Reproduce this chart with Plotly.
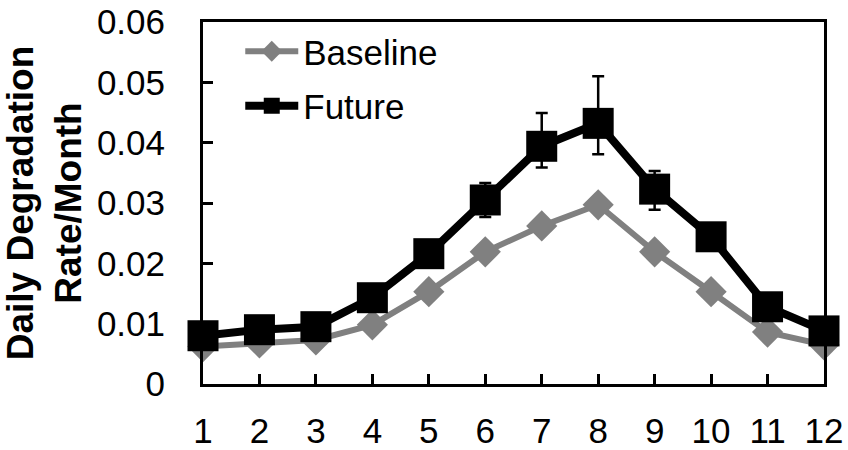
import plotly.graph_objects as go

months = [1, 2, 3, 4, 5, 6, 7, 8, 9, 10, 11, 12]
baseline = [0.0062, 0.0068, 0.0073, 0.0098, 0.0153, 0.0219, 0.0262, 0.0297, 0.0219, 0.0153, 0.0086, 0.0065]
future = [0.0080, 0.0090, 0.0095, 0.0143, 0.0216, 0.0305, 0.0394, 0.0432, 0.0323, 0.0244, 0.0128, 0.0088]
future_err_plus = [0, 0, 0, 0, 0, 0.0028, 0.0055, 0.0078, 0.0030, 0, 0, 0]
future_err_minus = [0, 0, 0, 0, 0, 0.0028, 0.0035, 0.0051, 0.0034, 0, 0, 0]
y_ticks = [0, 0.01, 0.02, 0.03, 0.04, 0.05, 0.06]
y_tick_labels = ["0", "0.01", "0.02", "0.03", "0.04", "0.05", "0.06"]

FONT = "Liberation Sans, Arial, sans-serif"

fig = go.Figure()
fig.add_trace(go.Scatter(
    x=months, y=baseline, name="Baseline", mode="lines+markers",
    line=dict(color="#808080", width=6),
    marker=dict(symbol="diamond", size=24, color="#808080"),
    legendgroup="b", cliponaxis=False,
))
fig.add_trace(go.Scatter(
    x=months, y=future, name="Future", mode="lines+markers",
    line=dict(color="#000000", width=8),
    marker=dict(symbol="square", size=31, color="#000000"),
    error_y=dict(type="data", symmetric=False, array=future_err_plus,
                 arrayminus=future_err_minus, color="#000000", thickness=2.5, width=6),
    legendgroup="f", cliponaxis=False,
))

fig.update_layout(
    width=848, height=450,
    margin=dict(l=203, r=24, t=22, b=66),
    paper_bgcolor="white", plot_bgcolor="white",
    font=dict(family=FONT, size=35, color="black"),
    showlegend=True,
    legend=dict(x=0.06, y=1.0, xanchor="left", yanchor="top",
                bgcolor="rgba(0,0,0,0)", font=dict(size=35),
                tracegroupgap=6, itemwidth=53),
    xaxis=dict(
        range=[1, 12], tickmode="array", tickvals=months,
        ticks="inside", ticklen=10, tickwidth=3, tickcolor="black",
        showline=True, linecolor="black", linewidth=3, mirror=True,
        showgrid=False, zeroline=False, ticklabelstandoff=14,
        tickfont=dict(size=35), automargin=False,
    ),
    yaxis=dict(
        range=[0, 0.06], tickmode="array", tickvals=y_ticks, ticktext=y_tick_labels,
        ticks="inside", ticklen=10, tickwidth=3, tickcolor="black",
        showline=True, linecolor="black", linewidth=3, mirror=True,
        showgrid=False, zeroline=False, ticklabelstandoff=28,
        tickfont=dict(size=35), automargin=False,
        title=dict(text="<b>Daily Degradation<br>Rate/Month</b>",
                   font=dict(size=37), standoff=14),
    ),
)

fig.write_html("out.html", config={"displayModeBar": False},
               post_script="document.body.style.margin='0';document.body.style.overflow='hidden';")
